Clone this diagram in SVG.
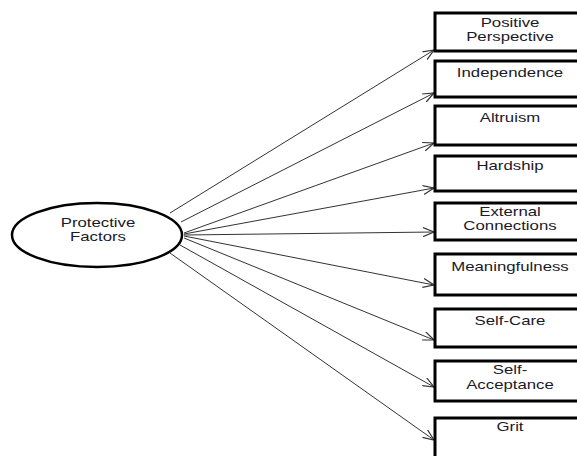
<svg xmlns="http://www.w3.org/2000/svg" width="577" height="456" viewBox="0 0 577 456">
<defs>
<style>
.box{fill:#fff;stroke:#000;stroke-width:3}
.ell{fill:#fff;stroke:#000;stroke-width:2.5}
.lbl{font-family:"Liberation Sans",Arial,sans-serif;font-size:12px;fill:#1a1a2a;text-anchor:middle}
.conn{stroke:#333;stroke-width:1;fill:none;marker-end:url(#arr)}
</style>
<marker id="arr" viewBox="0 0 12 10" refX="11" refY="5" markerWidth="12" markerHeight="10" markerUnits="userSpaceOnUse" orient="auto">
<path d="M0,0.5 L11,5 L0,9.5" fill="none" stroke="#333" stroke-width="1.2"/>
</marker>
</defs>
<rect width="577" height="456" fill="#fff"/>
<g id="connectors">
<line class="conn" x1="170" y1="213" x2="434" y2="50"/>
<line class="conn" x1="181" y1="222" x2="434" y2="93"/>
<line class="conn" x1="184" y1="233" x2="434" y2="143"/>
<line class="conn" x1="184" y1="234" x2="434" y2="188"/>
<line class="conn" x1="184" y1="235" x2="434" y2="232"/>
<line class="conn" x1="184" y1="236" x2="434" y2="285"/>
<line class="conn" x1="184" y1="238" x2="434" y2="340"/>
<line class="conn" x1="180" y1="245" x2="434" y2="387"/>
<line class="conn" x1="170" y1="253" x2="434" y2="440"/>
</g>
<g id="protective-factors">
<ellipse class="ell" cx="97" cy="235" rx="85" ry="32"/>
<text class="lbl" transform="translate(98,227) scale(1.4,1)">Protective</text>
<text class="lbl" transform="translate(98,241) scale(1.4,1)">Factors</text>
</g>
<g id="positive-perspective">
<rect class="box" x="435" y="13" width="150" height="38"/>
<text class="lbl" transform="translate(510,27) scale(1.4,1)">Positive</text>
<text class="lbl" transform="translate(510,41) scale(1.4,1)">Perspective</text>
</g>
<g id="independence">
<rect class="box" x="435" y="61" width="150" height="36"/>
<text class="lbl" transform="translate(510,77) scale(1.4,1)">Independence</text>
</g>
<g id="altruism">
<rect class="box" x="435" y="106" width="150" height="39"/>
<text class="lbl" transform="translate(510,122) scale(1.4,1)">Altruism</text>
</g>
<g id="hardship">
<rect class="box" x="435" y="156" width="150" height="35"/>
<text class="lbl" transform="translate(510,170) scale(1.4,1)">Hardship</text>
</g>
<g id="external-connections">
<rect class="box" x="435" y="203" width="150" height="37"/>
<text class="lbl" transform="translate(510,216) scale(1.4,1)">External</text>
<text class="lbl" transform="translate(510,230) scale(1.4,1)">Connections</text>
</g>
<g id="meaningfulness">
<rect class="box" x="435" y="254" width="150" height="41"/>
<text class="lbl" transform="translate(510,271) scale(1.4,1)">Meaningfulness</text>
</g>
<g id="self-care">
<rect class="box" x="435" y="309" width="150" height="38"/>
<text class="lbl" transform="translate(510,325) scale(1.4,1)">Self-Care</text>
</g>
<g id="self-acceptance">
<rect class="box" x="435" y="361" width="150" height="40"/>
<text class="lbl" transform="translate(510,374) scale(1.4,1)">Self-</text>
<text class="lbl" transform="translate(510,389) scale(1.4,1)">Acceptance</text>
</g>
<g id="grit">
<rect class="box" x="435" y="418" width="150" height="52"/>
<text class="lbl" transform="translate(510,431) scale(1.4,1)">Grit</text>
</g>
</svg>
